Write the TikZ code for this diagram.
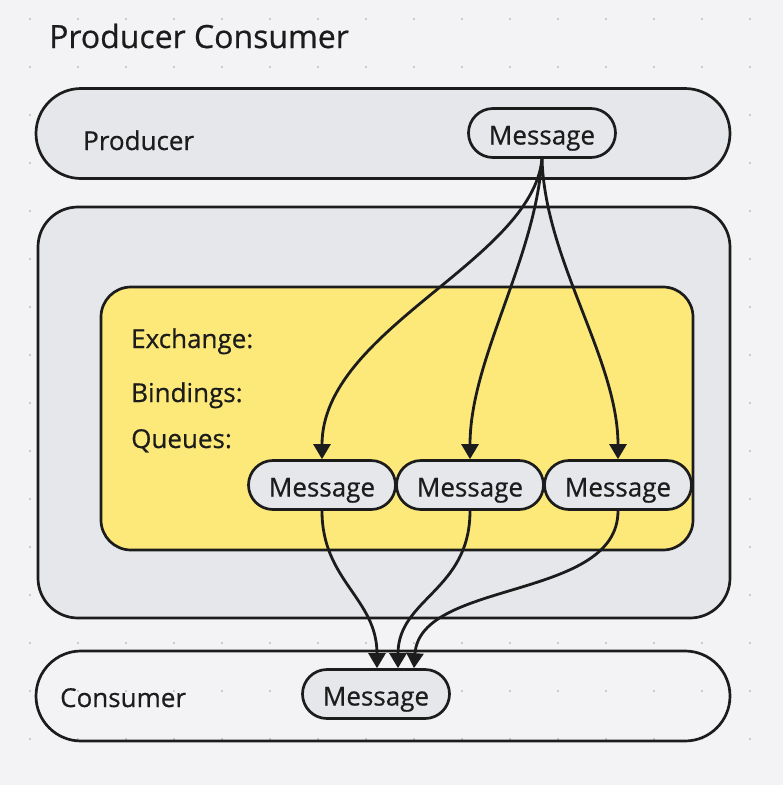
\documentclass[tikz,border=0pt]{standalone}
\usepackage{fontspec}
\setmainfont{Open Sans}[BoldFont=Open Sans,BoldFeatures={FakeBold=0.6}]
\usetikzlibrary{arrows.meta}
\definecolor{bgcol}{HTML}{F3F3F5}
\definecolor{dotcol}{HTML}{C9C9CE}
\definecolor{boxgray}{HTML}{E6E7EB}
\definecolor{exyellow}{HTML}{FCE97A}
\definecolor{inkcol}{HTML}{1C1C1C}
\tikzset{
	lane/.style={draw=inkcol,line width=2.7pt,rounded corners=45pt,minimum width=694pt,minimum height=90pt},
	panel/.style={draw=inkcol,line width=2.7pt,rounded corners=#1},
	msg/.style={draw=inkcol,fill=boxgray,line width=2.7pt,rounded corners=24.5pt,minimum width=147pt,minimum height=49pt,text height=23pt,text depth=0pt,font=\fontsize{26}{30}\selectfont\bfseries,text=inkcol},
	lbl/.style={anchor=base west,inner sep=0pt,font=\fontsize{26}{30}\selectfont\bfseries,text=inkcol},
	flow/.style={draw=inkcol,line width=2.8pt,-{Triangle[length=15pt,width=17pt]}}
}
\begin{document}
\begin{tikzpicture}[x=1pt,y=-1pt]
			\useasboundingbox (0,0) rectangle (783,785);
			\fill[bgcol] (0,0) rectangle (783,785);
			\foreach \x in {30,78,...,750}
				\foreach \y in {19,67,...,739}
					\fill[dotcol] (\x-1.3,\y-1.3) rectangle (\x+1.3,\y+1.3);
			\node[lbl,font=\fontsize{32}{38}\selectfont\bfseries] (title) at (49,48) {Producer Consumer};
			% lanes
			\node[lane,fill=boxgray] (producer) at (383,133.5) {};
			\node[lbl] (prodlbl) at (83,150) {Producer};
			\node[panel=40pt,fill=boxgray,minimum width=692pt,minimum height=411pt] (broker) at (384,412.5) {};
			\node[panel=30pt,fill=exyellow,minimum width=592pt,minimum height=263pt] (exchange) at (397,418.5) {};
			\node[lbl] (exlbl) at (131,348) {Exchange:};
			\node[lbl] (bindlbl) at (131,402) {Bindings:};
			\node[lbl] (queuelbl) at (131,448) {Queues:};
			\node[lane] (consumer) at (383,696) {};
			\node[lbl] (conslbl) at (60,707) {Consumer};
			% messages
			\node[msg] (pmsg) at (542,133) {Message};
			\node[msg] (qa) at (322,485) {Message};
			\node[msg] (qb) at (470,485) {Message};
			\node[msg] (qc) at (618,485) {Message};
			\node[msg] (cmsg) at (376,694) {Message};
			\draw[flow] (pmsg.south) .. controls +(-10,102) and +(0,-130) .. (qa.north);
			\draw[flow] (pmsg.south) .. controls +(-7,102) and +(0,-100) .. (qb.north);
			\draw[flow] (pmsg.south) .. controls +(3,102) and +(0,-100) .. (qc.north);
			\draw[flow] (qa.south) .. controls +(0,70) and +(0,-70) .. ([xshift=1pt]cmsg.north);
			\draw[flow] (qb.south) .. controls +(0,80) and +(0,-70) .. ([xshift=22pt]cmsg.north);
			\draw[flow] (qc.south) .. controls +(0,90) and +(6,-89) .. ([xshift=38pt]cmsg.north);
		\end{tikzpicture}
\end{document}
